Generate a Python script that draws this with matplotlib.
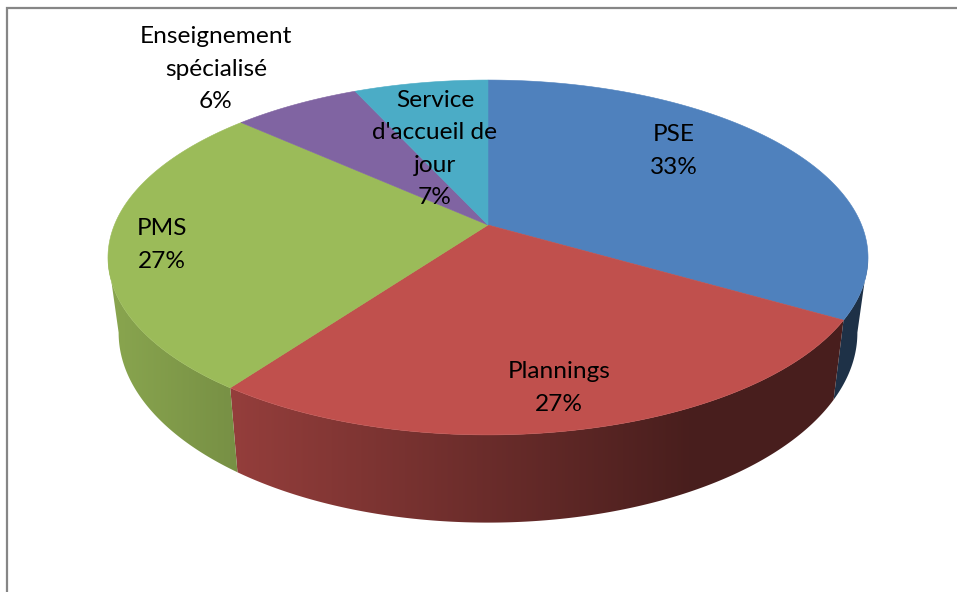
import numpy as np
import matplotlib
matplotlib.use('Agg')
import matplotlib.pyplot as plt
from matplotlib.patches import Polygon

# Chart values
categories = ['PSE', 'Plannings', 'PMS', 'Enseignement\nspécialisé', "Service\nd'accueil de\njour"]
shares = [33.4, 26.6, 26.7, 6.49, 6.81]
colors = ['#4F81BD', '#C0504D', '#9BBB59', '#8064A2', '#4BACC6']

# Label centres in pixels
label_x = [674, 559, 162, 216, 435]
label_y = [151, 388, 245, 69, 149]

# Pie geometry (pixels), the perspective makes the front of the disc bigger
cx, cy = 488, 225
half_w = 373.6
half_d = 171.5
persp = 0.183
wall_drop = 73
wall_sx = 0.972
wall_sy = 1.07

plt.rcParams['font.family'] = ['Lato', 'DejaVu Sans']
fig = plt.figure(figsize=(9.57, 5.92), dpi=100)
ax = fig.add_axes([0, 0, 1, 1])
ax.axis('off')


def project(angle):
    # angle in degrees, clockwise from the back of the disc
    a = np.radians(angle)
    u, v = np.sin(a), -np.cos(a)
    w = 1 - persp * v
    return half_w * u / w, half_d * v / w


def wall_shade(x):
    # darker towards the right, flat at the end
    return np.interp(x, [-373, -252, 202], [0.88, 0.77, 0.38])


# Chart frame, only the top and left edges show
ax.plot([6.5, 6.5, 957], [592, 8, 8], color='#868686', lw=1.6, solid_joinstyle='miter')

stops = np.cumsum([0] + shares) / sum(shares) * 360

# Wall only shows between the left and right extremes of the disc
sweep = np.linspace(0, 360, 3601)
sweep_x = project(sweep)[0]
wall_from = sweep[sweep_x.argmax()]
wall_to = sweep[sweep_x.argmin()]

for i in range(len(shares)):
    a0 = max(stops[i], wall_from)
    a1 = min(stops[i + 1], wall_to)
    if a1 <= a0:
        continue
    angles = np.linspace(a0, a1, 300)
    x, y = project(angles)
    x2 = x * wall_sx
    y2 = y * wall_sy + wall_drop
    px = np.r_[cx + x, cx + x2[::-1]]
    py = np.r_[cy + y, cy + y2[::-1]]
    # horizontal gradient, clipped to the outline of this wall piece
    xs = np.arange(px.min() - 2, px.max() + 3)
    base = np.array(matplotlib.colors.to_rgb(colors[i]))
    grad = np.clip(base[None, None, :] * wall_shade(xs - cx)[None, :, None], 0, 1)
    im = ax.imshow(grad, extent=[xs[0], xs[-1], py.max() + 2, py.min() - 2],
                   aspect='auto', interpolation='bilinear', zorder=1)
    im.set_clip_path(Polygon(np.c_[px, py], closed=True, transform=ax.transData))

# Top face
for i in range(len(shares)):
    angles = np.linspace(stops[i], stops[i + 1], 200)
    x, y = project(angles)
    ax.fill(np.r_[cx, cx + x], np.r_[cy, cy + y], color=colors[i], lw=0.4, zorder=2)

for i in range(len(shares)):
    ax.text(label_x[i], label_y[i], '%s\n%.0f%%' % (categories[i], shares[i]),
            ha='center', va='center', fontsize=17.6, linespacing=1.68, color='black', zorder=3)

ax.set_xlim(0, 957)
ax.set_ylim(592, 0)
fig.savefig('out.png', dpi=100)
